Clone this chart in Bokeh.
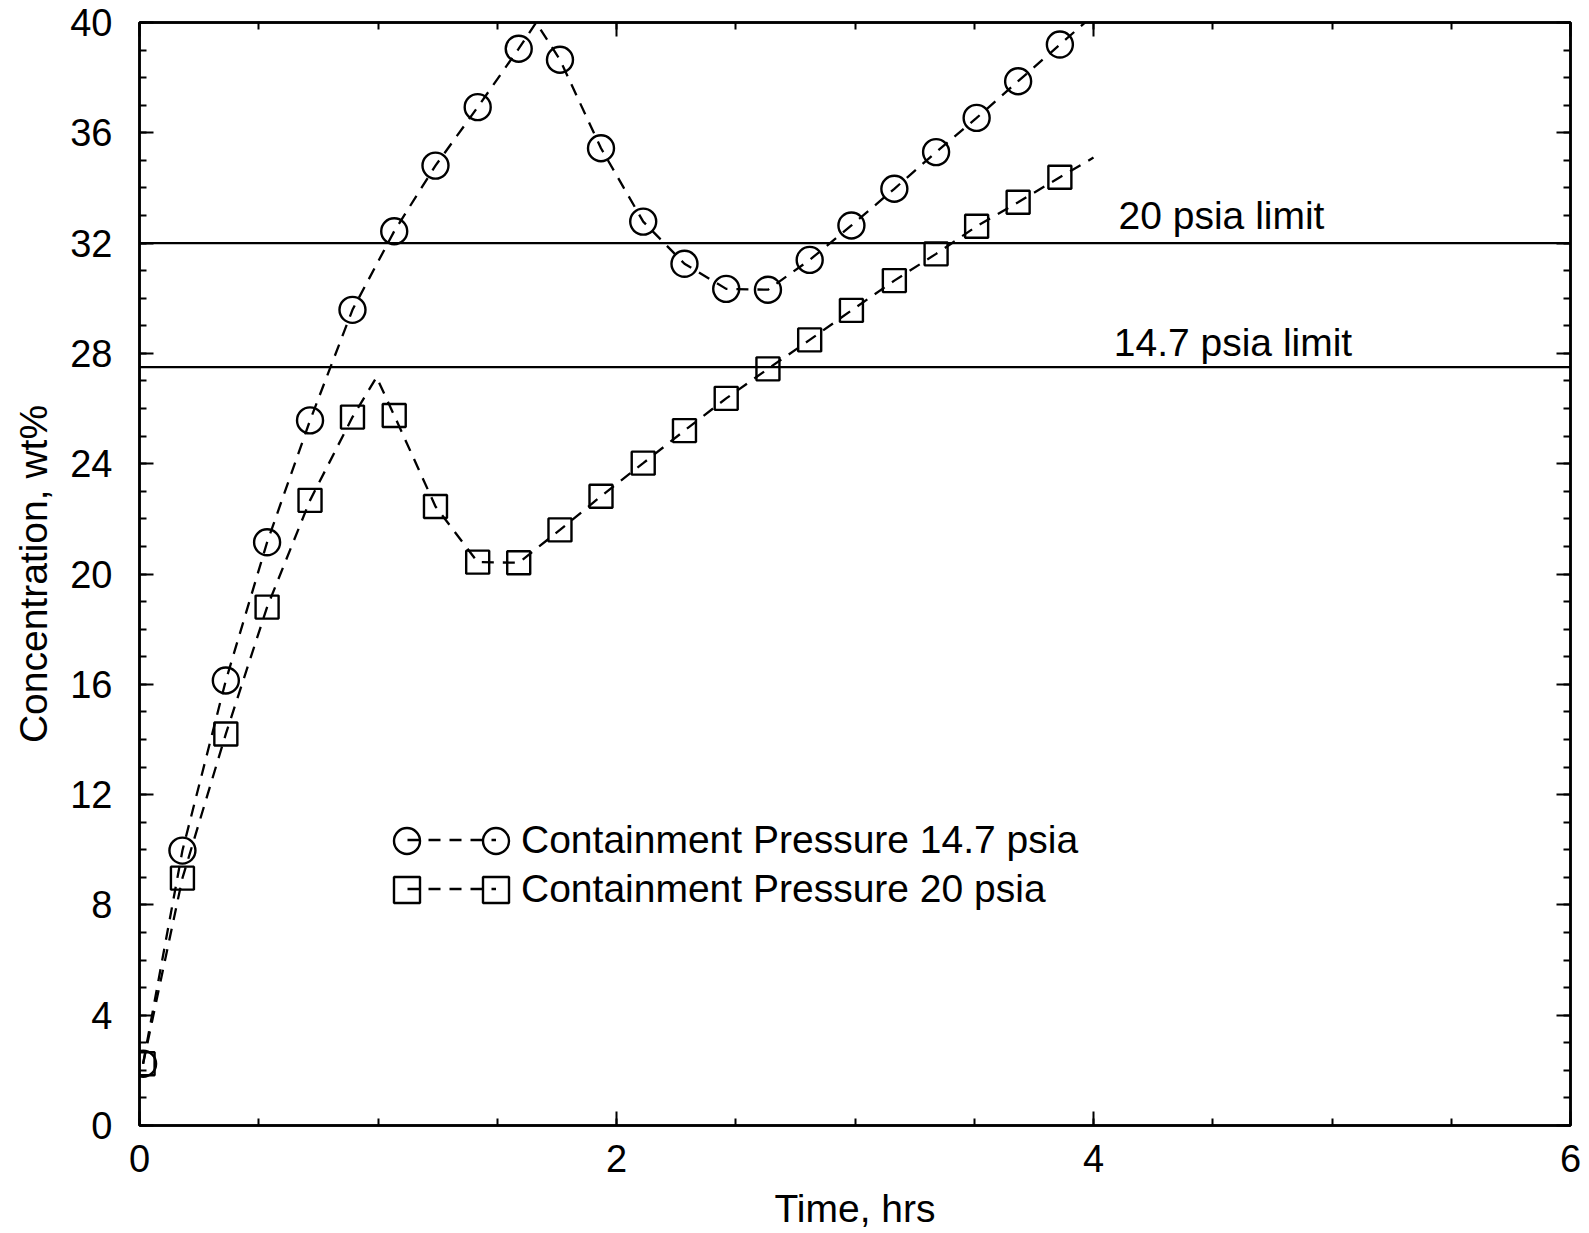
import numpy as np
from bokeh.plotting import figure
from bokeh.models import (Span, Label, Legend, LegendItem, LinearAxis, Range1d,
                          FixedTicker)
from bokeh.core.properties import value
from bokeh.embed import file_html
from bokeh.resources import INLINE

# ---------------- data ----------------
time_hrs = [0.015, 0.18, 0.362, 0.535, 0.715, 0.893, 1.068, 1.241, 1.418, 1.59,
            1.763, 1.935, 2.112, 2.285, 2.46, 2.635, 2.81, 2.985, 3.165, 3.34,
            3.51, 3.684, 3.859]
conc_14_7 = [2.24, 9.97, 16.14, 21.15, 25.57, 29.58, 32.43, 34.81, 36.93, 39.05,
             38.65, 35.44, 32.78, 31.25, 30.34, 30.31, 31.39, 32.64, 33.97, 35.3,
             36.54, 37.87, 39.2]
conc_20 = [2.24, 8.97, 14.2, 18.8, 22.67, 25.69, 25.75, 22.45, 20.43, 20.41,
           21.6, 22.82, 24.02, 25.2, 26.37, 27.44, 28.49, 29.56, 30.64, 31.61,
           32.61, 33.48, 34.39]

# dashed curves (pass through markers plus peak / end points)
curve_14_7_t = [0.015, 0.18, 0.362, 0.535, 0.715, 0.893, 1.068, 1.241, 1.418, 1.59,
                1.663, 1.763, 1.935, 2.112, 2.285, 2.46, 2.635, 2.81, 2.985, 3.165,
                3.34, 3.51, 3.684, 3.859, 4.0]
curve_14_7_c = [2.24, 9.97, 16.14, 21.15, 25.57, 29.58, 32.43, 34.81, 36.93, 39.05,
                40.0, 38.65, 35.44, 32.78, 31.25, 30.34, 30.31, 31.39, 32.64, 33.97,
                35.3, 36.54, 37.87, 39.2, 40.27]
curve_20_t = [0.015, 0.18, 0.362, 0.535, 0.715, 0.893, 0.994, 1.068, 1.241, 1.418,
              1.59, 1.763, 1.935, 2.112, 2.285, 2.46, 2.635, 2.81, 2.985, 3.165,
              3.34, 3.51, 3.684, 3.859, 4.0]
curve_20_c = [2.24, 8.97, 14.2, 18.8, 22.67, 25.69, 27.14, 25.75, 22.45, 20.43,
              20.41, 21.6, 22.82, 24.02, 25.2, 26.37, 27.44, 28.49, 29.56, 30.64,
              31.61, 32.61, 33.48, 34.39, 35.1]

limit_20 = 32.0
limit_14_7 = 27.5
limit_labels = ["20 psia limit", "14.7 psia limit"]
series_labels = ["Containment Pressure 14.7 psia", "Containment Pressure 20 psia"]

x_major = [0, 2, 4, 6]
x_minor = [i * 0.5 for i in range(13)]
y_major = list(range(0, 41, 4))
y_minor = list(range(0, 41))

FONT = "Liberation Sans"
DASH = "12 9"

p = figure(width=1582, height=1232, x_range=Range1d(0, 6), y_range=Range1d(0, 40),
           output_backend="svg", toolbar_location=None,
           min_border_left=139, min_border_right=12, min_border_top=22,
           min_border_bottom=100)
p.grid.visible = False
p.outline_line_color = "black"
p.outline_line_width = 2.5
p.background_fill_color = "white"
p.border_fill_color = "white"


def style_axis(ax, labels=True):
    ax.axis_line_width = 2.5
    ax.axis_line_color = "black"
    ax.major_tick_in = 14
    ax.major_tick_out = 0
    ax.minor_tick_in = 7
    ax.minor_tick_out = 0
    ax.major_tick_line_width = 2
    ax.minor_tick_line_width = 2
    ax.major_tick_line_color = "black"
    ax.minor_tick_line_color = "black"
    if labels:
        ax.major_label_text_font = FONT
        ax.major_label_text_font_size = "38px"
        ax.major_label_text_color = "black"
        ax.axis_label_text_font = FONT
        ax.axis_label_text_font_size = "39px"
        ax.axis_label_text_font_style = "normal"
        ax.axis_label_text_color = "black"
    else:
        ax.major_label_overrides = {t: "" for t in ax.ticker.ticks}
        ax.major_label_standoff = 0


p.xaxis.ticker = FixedTicker(ticks=x_major, minor_ticks=x_minor)
p.yaxis.ticker = FixedTicker(ticks=y_major, minor_ticks=y_minor)
p.xaxis.axis_label = "Time, hrs"
p.yaxis.axis_label = "Concentration, wt%"
style_axis(p.xaxis[0])
style_axis(p.yaxis[0])
p.xaxis.major_label_standoff = 19
p.xaxis.axis_label_standoff = 12
p.yaxis.major_label_standoff = 27
p.yaxis.axis_label_standoff = 12

top_ax = LinearAxis(ticker=FixedTicker(ticks=x_major, minor_ticks=x_minor))
style_axis(top_ax, labels=False)
p.add_layout(top_ax, "above")
right_ax = LinearAxis(ticker=FixedTicker(ticks=y_major, minor_ticks=y_minor))
style_axis(right_ax, labels=False)
p.add_layout(right_ax, "right")

# limit lines
for lv in (limit_20, limit_14_7):
    p.add_layout(Span(location=lv, dimension="width", line_color="black",
                      line_width=2.2))

p.add_layout(Label(x=4.105, y=limit_20 + 1.0, text=limit_labels[0],
                   text_font=FONT, text_font_size="39px", text_color="black",
                   text_baseline="alphabetic"))
p.add_layout(Label(x=4.085, y=limit_14_7 + 0.9, text=limit_labels[1],
                   text_font=FONT, text_font_size="39px", text_color="black",
                   text_baseline="alphabetic"))

# series
l1 = p.line(curve_14_7_t, curve_14_7_c, line_color="black", line_width=2.3,
            line_dash=DASH)
l2 = p.line(curve_20_t, curve_20_c, line_color="black", line_width=2.3,
            line_dash=DASH)
s1 = p.scatter(time_hrs, conc_14_7, marker="circle", size=26, fill_color=None,
               line_color="black", line_width=2.4)
s2 = p.scatter(time_hrs, conc_20, marker="square", size=23, fill_color=None,
               line_color="black", line_width=2.4)

# legend: dashed line + label
leg_lines = Legend(items=[LegendItem(label=value(series_labels[0]), renderers=[l1]),
                          LegendItem(label=value(series_labels[1]), renderers=[l2])],
                   location=(268, 212), glyph_width=89, glyph_height=49,
                   label_height=49, spacing=0, padding=0, margin=0,
                   label_standoff=25, label_text_font=FONT,
                   label_text_font_size="39px", label_text_color="black",
                   border_line_alpha=0, background_fill_alpha=0)
p.add_layout(leg_lines)
# legend markers at both ends of each dashed sample
for rend, yloc in ((s1, 252), (s2, 203)):
    for xloc in (235, 324):
        leg_m = Legend(items=[LegendItem(label=value(""), renderers=[rend])],
                       location=(xloc, yloc), glyph_width=65, glyph_height=65,
                       label_height=65, spacing=0, padding=0, margin=0,
                       label_standoff=0, label_width=0,
                       label_text_font=FONT, label_text_font_size="39px",
                       border_line_alpha=0, background_fill_alpha=0)
        p.add_layout(leg_m)

open("out.html", "w").write(file_html(p, INLINE))
